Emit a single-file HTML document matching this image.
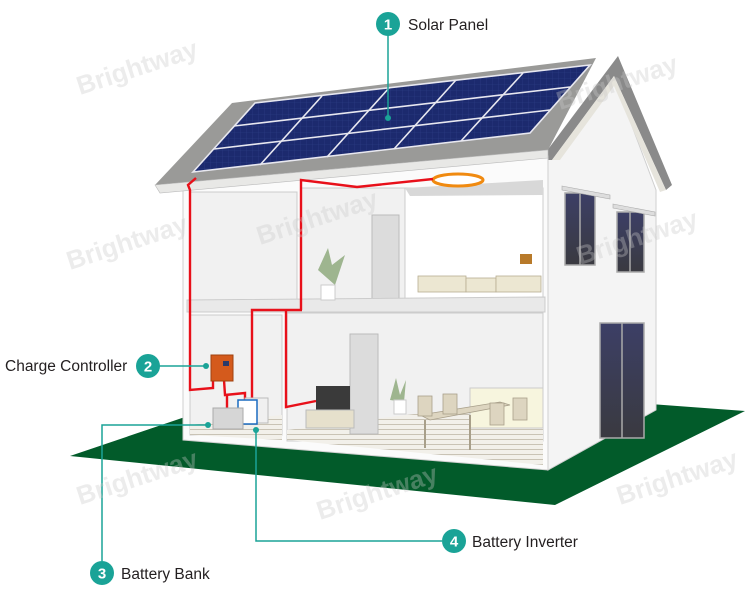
<!DOCTYPE html>
<html><head><meta charset="utf-8"><style>
html,body{margin:0;padding:0;background:#fff;}
svg{display:block;}
text{font-family:"Liberation Sans",sans-serif;}
</style></head><body>
<svg width="750" height="600" viewBox="0 0 750 600" xmlns="http://www.w3.org/2000/svg">
<defs>
<pattern id="cells" width="6" height="6" patternUnits="userSpaceOnUse">
<rect width="6" height="6" fill="#1c2a6e"/><path d="M0 0H6M0 0V6" stroke="#2e3f88" stroke-width="0.6"/>
</pattern>
<pattern id="floor" width="8" height="5" patternUnits="userSpaceOnUse">
<rect width="8" height="5" fill="#f2f0ea"/><path d="M0 4.5H8" stroke="#c9c3b5" stroke-width="1"/>
</pattern>
<linearGradient id="glass" x1="0" y1="0" x2="0" y2="1"><stop offset="0" stop-color="#3c3f66"/><stop offset="1" stop-color="#3a3a40"/></linearGradient>
</defs>

<!-- ground -->
<polygon points="70,456 300,378 745,411 555,505" fill="#025b2a"/>

<!-- side gable wall -->
<polygon points="548,158 614,78 656,190 656,410 548,470" fill="#f4f4f4" stroke="#cfcfcf"/>
<!-- gable roof edge -->
<polygon points="540,160 618,56 672,185 666,190 614,76 552,160" fill="#8a8a8a"/>
<polygon points="552,160 614,76 666,190 660,192 614,86 560,160" fill="#e6e4dc"/>
<!-- windows -->
<g stroke="#aaa" stroke-width="1.5">
<rect x="565" y="193" width="30" height="72" fill="url(#glass)"/>
<line x1="580" y1="193" x2="580" y2="265"/>
<rect x="617" y="212" width="27" height="60" fill="url(#glass)"/>
<line x1="630" y1="212" x2="630" y2="272"/>
<rect x="600" y="323" width="44" height="115" fill="url(#glass)"/>
<line x1="622" y1="323" x2="622" y2="438"/>
</g>
<polygon points="562,186 610,195 610,199 562,190" fill="#ddd" stroke="#aaa" stroke-width="0.6"/>
<polygon points="613,204 655,212 655,216 613,208" fill="#ddd" stroke="#aaa" stroke-width="0.6"/>

<!-- front cutaway frame -->
<polygon points="183,185 548,156 548,470 183,440" fill="#fbfbfb" stroke="#cfcfcf"/>
<!-- upper rooms -->
<rect x="190" y="192" width="107" height="108" fill="#f1f1f1" stroke="#ccc"/>
<rect x="301" y="188" width="104" height="112" fill="#f1f1f1" stroke="#ccc"/>
<rect x="405" y="188" width="138" height="112" fill="#fff" stroke="#ccc"/>
<polygon points="405,188 543,180 543,195 410,196" fill="#d8d8d8"/>
<rect x="372" y="215" width="27" height="85" fill="#dcdcdc" stroke="#bbb"/>
<!-- floor slab -->
<polygon points="187,300 545,297 545,312 187,312" fill="#e9e9e9" stroke="#ccc"/>
<!-- lower rooms -->
<rect x="190" y="315" width="92" height="120" fill="#f1f1f1" stroke="#ccc"/>
<rect x="287" y="313" width="256" height="128" fill="#f1f1f1" stroke="#ccc"/>
<polygon points="190,435 190,425 250,418 282,415 282,440" fill="url(#floor)"/>
<polygon points="287,440 287,430 430,412 543,415 543,465" fill="url(#floor)"/>
<rect x="350" y="334" width="28" height="100" fill="#dcdcdc" stroke="#bbb"/>
<rect x="470" y="388" width="73" height="40" fill="#f7f5de" stroke="#ccc"/>

<!-- furniture -->
<rect x="316" y="386" width="34" height="24" fill="#3a3a3a"/>
<rect x="306" y="410" width="48" height="18" fill="#e6e0cc" stroke="#bbb"/>
<path d="M390 400 L396 378 L400 395 L406 380 L404 402 Z" fill="#9eb58f"/>
<rect x="394" y="400" width="12" height="14" fill="#fff" stroke="#ccc"/>
<g fill="#ddd5c0" stroke="#a89f8a" stroke-width="0.8">
<polygon points="420,415 500,402 510,405 430,420"/>
<rect x="418" y="396" width="14" height="20"/><rect x="443" y="394" width="14" height="20"/>
<rect x="490" y="403" width="14" height="22"/><rect x="513" y="398" width="14" height="22"/>
</g>
<line x1="425" y1="420" x2="425" y2="448" stroke="#a89f8a" stroke-width="2"/>
<line x1="470" y1="415" x2="470" y2="450" stroke="#a89f8a" stroke-width="2"/>
<!-- upper furniture -->
<g fill="#ece7d2" stroke="#b8ad92" stroke-width="0.8">
<rect x="418" y="276" width="48" height="16"/><rect x="466" y="278" width="30" height="14"/>
<rect x="496" y="276" width="45" height="16"/>
</g>
<rect x="520" y="254" width="12" height="10" fill="#b87a2a"/>
<path d="M318 270 L328 248 L332 265 L345 255 L335 285 Z" fill="#9eb58f"/>
<rect x="321" y="285" width="14" height="15" fill="#fff" stroke="#ccc"/>
<!-- ceiling light -->
<ellipse cx="458" cy="180" rx="25" ry="6" fill="#fff" stroke="#f08a10" stroke-width="3"/>

<!-- roof -->
<polygon points="155,185 232,103 596,58 548,150" fill="#9a9a98"/>
<polygon points="155,185 548,150 548,158 160,193" fill="#e8e8e6" stroke="#bbb" stroke-width="0.6"/>
<!-- solar panels -->
<polygon points="193,172 255,103 590,65 530,133" fill="url(#cells)"/>
<g stroke="#e8e8f0" stroke-width="1.6">
<polygon points="193,172 255,103 590,65 530,133" fill="none"/>
<line x1="214" y1="149" x2="550" y2="110"/>
<line x1="234" y1="126" x2="570" y2="87"/>
<line x1="260" y1="165" x2="322" y2="96"/>
<line x1="327" y1="157" x2="389" y2="88"/>
<line x1="394" y1="149" x2="456" y2="80"/>
<line x1="461" y1="141" x2="523" y2="73"/>
</g>

<!-- red wires -->
<g fill="none" stroke="#e8101a" stroke-width="2.4" stroke-linejoin="miter">
<polyline points="196,178 188,185 190,190 190,390 213,388 213,380"/>
<polyline points="301,310 301,180 357,187 433,179"/>
<polyline points="224,380 225,395 245,393 245,400"/>
<polyline points="227,395 227,408"/>
<polyline points="252,398 252,310 302,310"/>
<polyline points="286,310 286,407 316,401"/>
</g>

<!-- devices -->
<rect x="211" y="355" width="22" height="26" fill="#d45a1c" stroke="#a0410f"/>
<rect x="223" y="361" width="6" height="5" fill="#2a3a6a"/>
<rect x="245" y="398" width="23" height="25" fill="#f0f0f0" stroke="#bbb"/>
<rect x="238" y="400" width="19" height="24" fill="#fff" stroke="#1a6bc0" stroke-width="1.5"/>
<rect x="213" y="408" width="30" height="21" fill="#d6d6d6" stroke="#aaa"/>

<!-- callouts -->
<g stroke="#1aa397" stroke-width="1.5" fill="none">
<line x1="388" y1="34" x2="388" y2="118"/>
<line x1="158" y1="366" x2="206" y2="366"/>
<polyline points="102,561 102,425 208,425"/>
<polyline points="256,430 256,541 442,541"/>
</g>
<g fill="#1aa397">
<circle cx="388" cy="118" r="3"/><circle cx="206" cy="366" r="3"/>
<circle cx="208" cy="425" r="3"/><circle cx="256" cy="430" r="3"/>
<circle cx="388" cy="24" r="12"/><circle cx="148" cy="366" r="12"/>
<circle cx="102" cy="573" r="12"/><circle cx="454" cy="541" r="12"/>
</g>
<g fill="#fff" font-weight="bold" font-size="15" text-anchor="middle">
<text x="388" y="29.5">1</text><text x="148" y="371.5">2</text>
<text x="102" y="578.5">3</text><text x="454" y="546.5">4</text>
</g>
<g fill="#231f20" font-size="15.5">
<text x="408" y="30">Solar Panel</text>
<text x="5" y="371">Charge Controller</text>
<text x="121" y="579">Battery Bank</text>
<text x="472" y="547">Battery Inverter</text>
</g>

<!-- faint watermarks -->
<g fill="#c8c8c8" opacity="0.35" font-size="26" font-weight="bold">
<text x="80" y="95" transform="rotate(-18 80 95)">Brightway</text>
<text x="260" y="245" transform="rotate(-18 260 245)">Brightway</text>
<text x="560" y="110" transform="rotate(-18 560 110)">Brightway</text>
<text x="70" y="270" transform="rotate(-18 70 270)">Brightway</text>
<text x="580" y="265" transform="rotate(-18 580 265)">Brightway</text>
<text x="80" y="505" transform="rotate(-18 80 505)">Brightway</text>
<text x="320" y="520" transform="rotate(-18 320 520)">Brightway</text>
<text x="620" y="505" transform="rotate(-18 620 505)">Brightway</text>
</g>
</svg>
</body></html>
